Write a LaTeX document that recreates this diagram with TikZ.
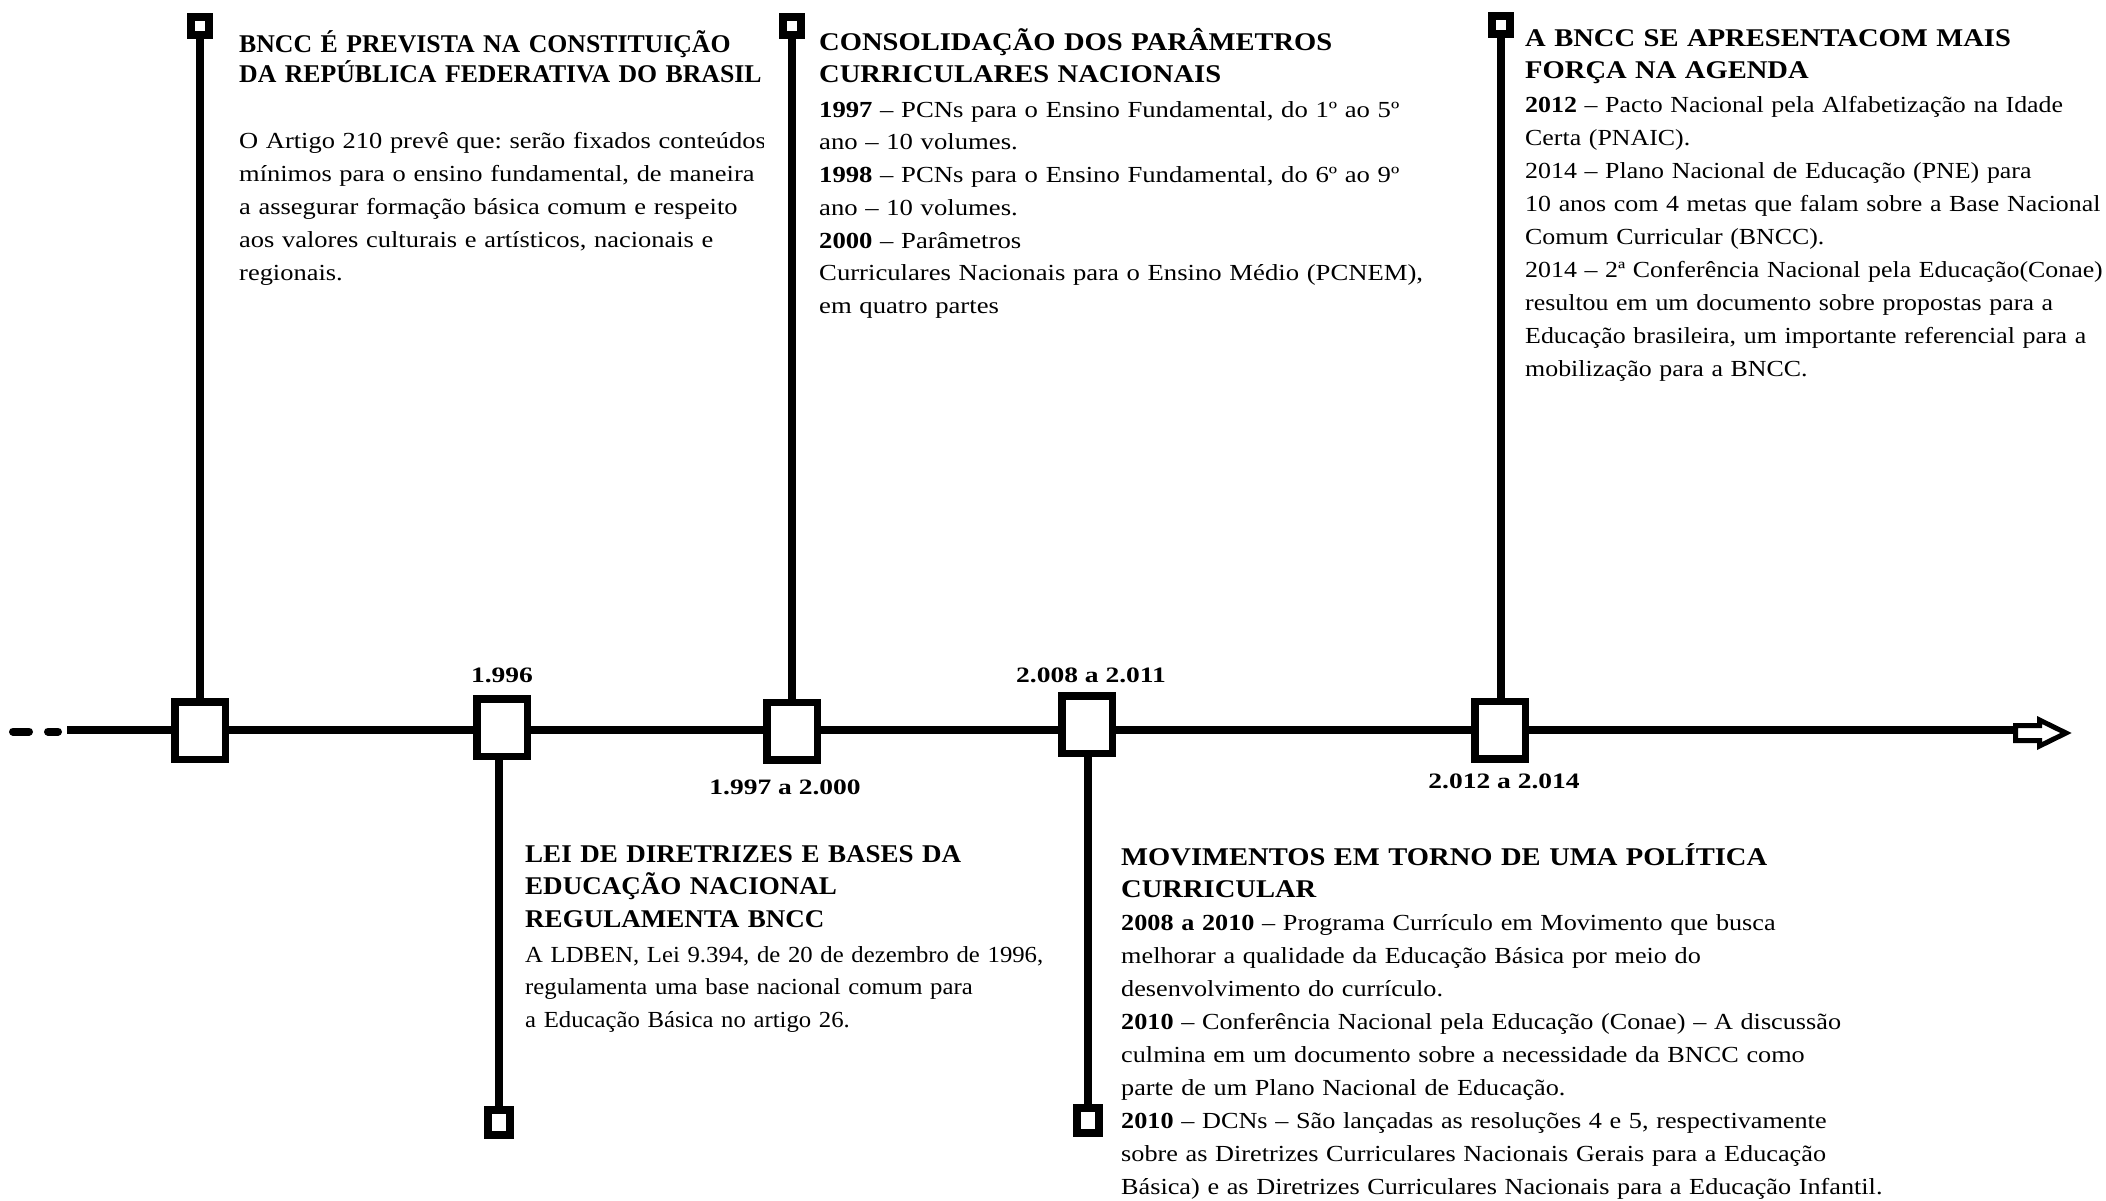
\documentclass[tikz,border=0pt]{standalone}
\usepackage{fontspec}
\setmainfont{Liberation Serif}
\newfontfamily\bodyfont[FakeStretch=1.14]{Liberation Serif}
\newfontfamily\bodyfontA[FakeStretch=1.15]{Liberation Serif}
\newfontfamily\bodyfontB[FakeStretch=1.075]{Liberation Serif}
\newfontfamily\bodyfontC[FakeStretch=1.125]{Liberation Serif}
\newfontfamily\bodyfontD[FakeStretch=1.16]{Liberation Serif}
\newfontfamily\titlefont[FakeStretch=1.12]{Liberation Serif}
\newfontfamily\titlefontA[FakeStretch=1.01]{Liberation Serif}
\newfontfamily\titlefontB[FakeStretch=1.06]{Liberation Serif}
\newfontfamily\labelfont[FakeStretch=1.25]{Liberation Serif}
\begin{document}
\frenchspacing
\begin{tikzpicture}[x=1pt,y=-1pt,
  mainline/.style={line width=8pt},
  stem/.style={line width=8pt},
  bigbox/.style={draw, line width=7.5pt, fill=white, minimum width=50.5pt, minimum height=57.5pt, inner sep=0pt},
  topsq/.style={draw, line width=8pt, fill=white, minimum width=18pt, minimum height=18pt, inner sep=0pt},
  botsq/.style={draw, line width=8pt, fill=white, minimum width=22pt, minimum height=25pt, inner sep=0pt},
  txtbase/.style={anchor=north west, inner sep=0pt, text width=900pt, align=left},
  ttl/.style={txtbase, font=\titlefont\bfseries\fontsize{25.5}{32.5}\selectfont},
  ttlA/.style={txtbase, font=\titlefontA\bfseries\fontsize{25.5}{30.5}\selectfont},
  ttlB/.style={txtbase, font=\titlefontB\bfseries\fontsize{25.5}{32.5}\selectfont},
  body/.style={txtbase, font=\bodyfont\fontsize{23}{33}\selectfont},
  bodyA/.style={txtbase, font=\bodyfontA\fontsize{23}{33}\selectfont},
  bodyB/.style={txtbase, font=\bodyfontB\fontsize{23}{32.5}\selectfont},
  bodyC/.style={txtbase, font=\bodyfontC\fontsize{23}{33}\selectfont},
  bodyD/.style={txtbase, font=\bodyfontD\fontsize{23}{32.7}\selectfont},
  yr/.style={anchor=base, inner sep=0pt, font=\labelfont\bfseries\fontsize{22}{22}\selectfont},
  tip/.style={draw, fill=white, line width=5pt, line join=miter}
]
\useasboundingbox (0,0) rectangle (2106,1200);

% timeline
\coordinate (d1a) at (13,731.5);
\coordinate (d1b) at (29,731.5);
\coordinate (d2a) at (48,731.5);
\coordinate (d2b) at (58,731.5);
\coordinate (lstart) at (67,730);
\coordinate (lend) at (2016,730);
\draw[line width=8pt, line cap=round] (d1a) -- (d1b);
\draw[line width=8pt, line cap=round] (d2a) -- (d2b);
\draw[mainline] (lstart) -- (lend);

% boxes on the timeline
\node[bigbox] (b1) at (200,730.5) {};
\node[bigbox] (b2) at (502,727.5) {};
\node[bigbox] (b3) at (792,731) {};
\node[bigbox] (b4) at (1087,724.5) {};
\node[bigbox] (b5) at (1500,730) {};

% end squares
\node[topsq] (t1) at (200,26) {};
\node[topsq] (t3) at (792,26) {};
\node[topsq] (t5) at (1501,24.5) {};
\node[botsq] (u2) at (499,1122.5) {};
\node[botsq] (u4) at (1087.5,1120) {};

% stems
\draw[stem] (t1.south) -- (t1.south |- b1.north);
\draw[stem] (t3.south) -- (t3.south |- b3.north);
\draw[stem] (t5.south) -- (t5.south |- b5.north);
\draw[stem] (u2.north) -- (u2.north |- b2.south);
\draw[stem] (u4.north) -- (u4.north |- b4.south);

% arrow head
\coordinate (ab) at (2015.5,733);
\draw[tip, shift={(ab)}] (0,-7.5) -- (24,-7.5) -- (24,-13) -- (50.5,0) -- (24,13) -- (24,7.5) -- (0,7.5) -- cycle;

% year labels
\node[yr] (y2) at (502,682) {1.996};
\node[yr] (y3) at (785,794) {1.997 a 2.000};
\node[yr] (y4) at (1091,682) {2.008 a 2.011};
\node[yr] (y5) at (1504,788) {2.012 a 2.014};

% block 1
\node[ttlA] (h1) at (239,26) {\rule{0pt}{26pt}BNCC É PREVISTA NA CONSTITUIÇÃO\\DA REPÚBLICA FEDERATIVA DO BRASIL};
\begin{scope}
\clip (230,100) rectangle (763,320);
\node[bodyA] (p1) at (239,124) {\rule{0pt}{24pt}O Artigo 210 prevê que: serão fixados conteúdos\\
mínimos para o ensino fundamental, de maneira\\
a assegurar formação básica comum e respeito\\
aos valores culturais e artísticos, nacionais e\\
regionais.};
\end{scope}

% block 3
\node[ttl] (h3) at (819,24) {\rule{0pt}{26pt}CONSOLIDAÇÃO DOS PARÂMETROS\\CURRICULARES NACIONAIS};
\node[bodyD] (p3) at (819,93) {\rule{0pt}{24pt}{\bfseries 1997} – PCNs para o Ensino Fundamental, do 1º ao 5º\\
ano – 10 volumes.\\
{\bfseries 1998} – PCNs para o Ensino Fundamental, do 6º ao 9º\\
ano – 10 volumes.\\
{\bfseries 2000} – Parâmetros\\
Curriculares Nacionais para o Ensino Médio (PCNEM),\\
em quatro partes};

% block 5
\node[ttl] (h5) at (1525,20) {\rule{0pt}{26pt}A BNCC SE APRESENTACOM MAIS\\FORÇA NA AGENDA};
\node[bodyC] (p5) at (1525,88) {\rule{0pt}{24pt}{\bfseries 2012} – Pacto Nacional pela Alfabetização na Idade\\
Certa (PNAIC).\\
2014 – Plano Nacional de Educação (PNE) para\\
10 anos com 4 metas que falam sobre a Base Nacional\\
Comum Curricular (BNCC).\\
2014 – 2ª Conferência Nacional pela Educação(Conae)\\
resultou em um documento sobre propostas para a\\
Educação brasileira, um importante referencial para a\\
mobilização para a BNCC.};

% block 2
\node[ttlB] (h2) at (525,836) {\rule{0pt}{26pt}LEI DE DIRETRIZES E BASES DA\\EDUCAÇÃO NACIONAL\\REGULAMENTA BNCC};
\node[bodyB] (p2) at (525,938) {\rule{0pt}{24pt}A LDBEN, Lei 9.394, de 20 de dezembro de 1996,\\
regulamenta uma base nacional comum para\\
a Educação Básica no artigo 26.};

% block 4
\node[ttl] (h4) at (1121,839) {\rule{0pt}{26pt}MOVIMENTOS EM TORNO DE UMA POLÍTICA\\CURRICULAR};
\node[body] (p4) at (1121,906) {\rule{0pt}{24pt}{\bfseries 2008 a 2010} – Programa Currículo em Movimento que busca\\
melhorar a qualidade da Educação Básica por meio do\\
desenvolvimento do currículo.\\
{\bfseries 2010} – Conferência Nacional pela Educação (Conae) – A discussão\\
culmina em um documento sobre a necessidade da BNCC como\\
parte de um Plano Nacional de Educação.\\
{\bfseries 2010} – DCNs – São lançadas as resoluções 4 e 5, respectivamente\\
sobre as Diretrizes Curriculares Nacionais Gerais para a Educação\\
Básica) e as Diretrizes Curriculares Nacionais para a Educação Infantil.};
\end{tikzpicture}
\end{document}
